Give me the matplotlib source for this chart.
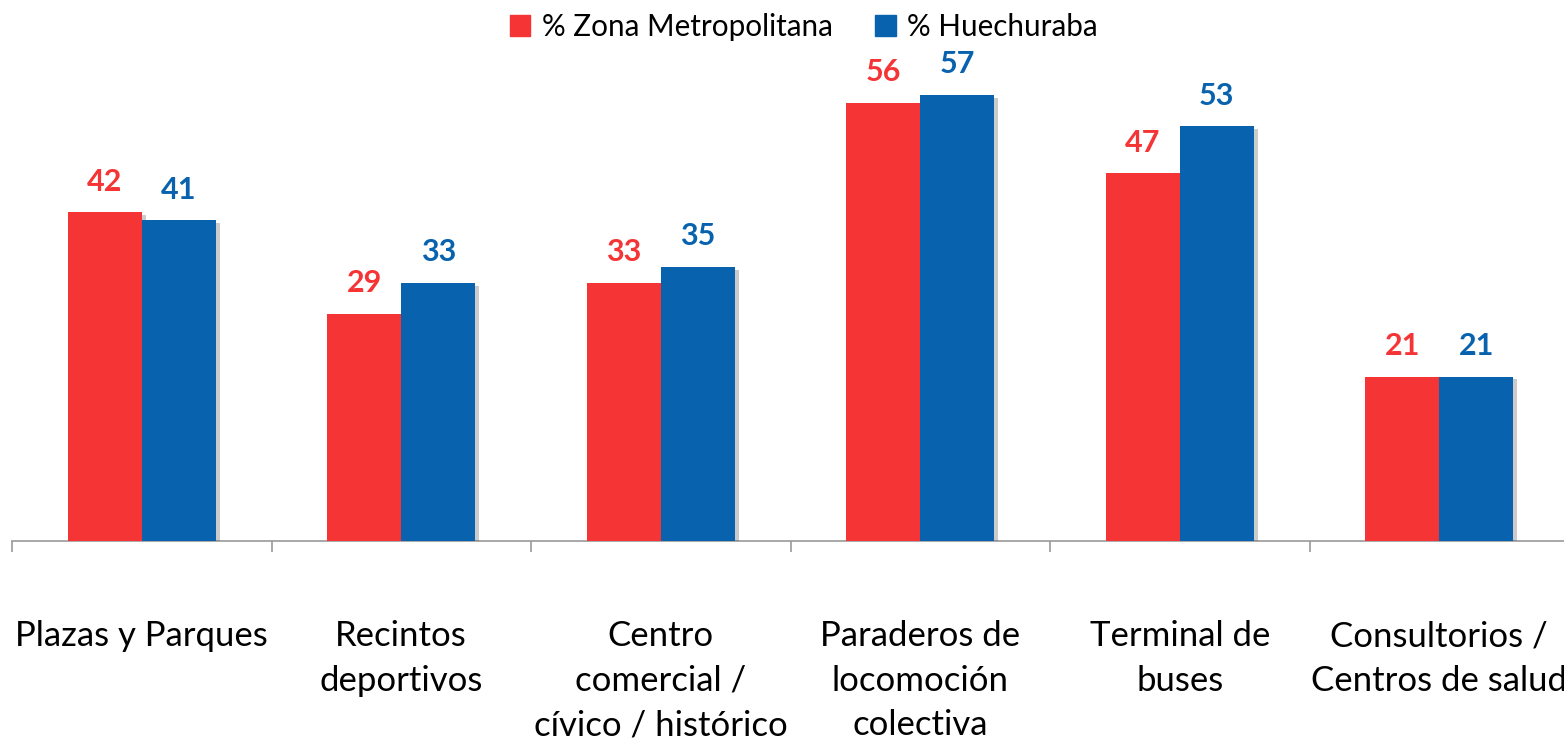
import matplotlib
matplotlib.use("Agg")
import matplotlib.pyplot as plt
import matplotlib.patheffects as pe
from matplotlib.patches import Patch
import numpy as np

categories = ["Plazas y Parques", "Recintos\ndeportivos", "Centro\ncomercial /\ncívico / histórico",
              "Paraderos de\nlocomoción\ncolectiva", "Terminal de\nbuses", "Consultorios /\nCentros de salud"]
zona_metro = [42, 29, 33, 56, 47, 21]
huechuraba = [41, 33, 35, 57, 53, 21]
series_names = ["% Zona Metropolitana", "% Huechuraba"]

RED = "#F53435"
BLUE = "#0862AE"

plt.rcParams['font.family'] = ['Lato', 'DejaVu Sans']

fig = plt.figure(figsize=(15.64, 7.39), dpi=100)
W, H = 1564, 739
ax = fig.add_axes([12 / W, 1 - 541 / H, 1557 / W, 471 / H])

x = np.arange(len(categories))
bw = 0.285
shadow = [pe.SimplePatchShadow(offset=(3, -2), alpha=0.3, shadow_rgbFace='#555555'), pe.Normal()]
b1 = ax.bar(x - bw / 2, zona_metro, bw, color=RED, zorder=3)
b2 = ax.bar(x + bw / 2, huechuraba, bw, color=BLUE, zorder=3)
for b in list(b1) + list(b2):
    b.set_path_effects(shadow)

for bars, vals, col in ((b1, zona_metro, RED), (b2, huechuraba, BLUE)):
    for b, v in zip(bars, vals):
        ax.annotate(str(v), (b.get_x() + b.get_width() / 2, v), xytext=(0, 12),
                    textcoords="offset points", ha="center", va="bottom",
                    fontsize=22, fontweight="bold", color=col)

ax.set_xlim(-0.5, 5.5)
ax.set_ylim(0, 60.2)
ax.set_yticks([])
for s in ("left", "right", "top"):
    ax.spines[s].set_visible(False)
ax.spines["bottom"].set_color("#999999")
ax.spines["bottom"].set_linewidth(1.2)

ax.set_xticks(x)
ax.set_xticklabels(categories, fontsize=25, linespacing=1.48)
ax.tick_params(axis="x", which="major", length=0, pad=57)
ax.set_xticks(np.arange(-0.5, 6.0, 1.0), minor=True)
ax.tick_params(axis="x", which="minor", length=8, color="#999999", width=1.2)

handles = [Patch(color=RED), Patch(color=BLUE)]
fig.legend(handles=handles, labels=series_names, loc="upper center",
           bbox_to_anchor=(0.514, 1.019), ncol=2, frameon=False, fontsize=21.3,
           handlelength=0.7, handleheight=0.7, handletextpad=0.38, columnspacing=1.45)

fig.savefig("out.png", dpi=100)
